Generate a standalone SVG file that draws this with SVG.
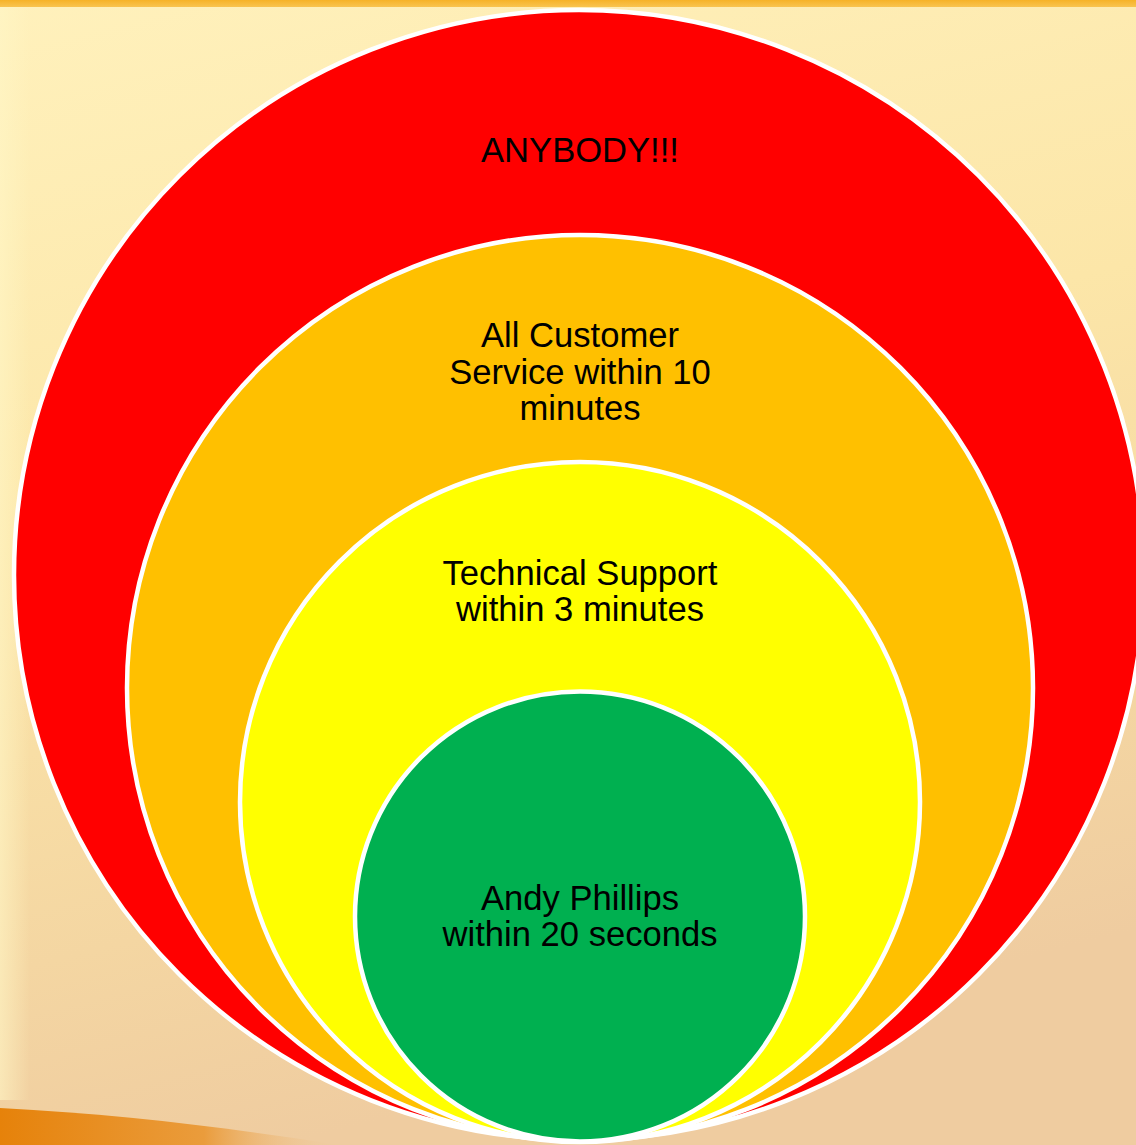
<svg xmlns="http://www.w3.org/2000/svg" width="1136" height="1145" viewBox="0 0 1136 1145">
<defs>
<linearGradient id="bg" x1="0" y1="0" x2="0.25" y2="1">
<stop offset="0" stop-color="#FFF1BC"/>
<stop offset="0.45" stop-color="#FCE6A8"/>
<stop offset="0.8" stop-color="#F4D6A2"/>
<stop offset="1" stop-color="#EFCCA0"/>
</linearGradient>
<linearGradient id="topbar" x1="0" y1="0" x2="0" y2="1">
<stop offset="0" stop-color="#F6B228"/>
<stop offset="1" stop-color="#F9C450"/>
</linearGradient>
<linearGradient id="swoosh" x1="0" y1="0" x2="1" y2="0">
<stop offset="0" stop-color="#E6820A"/>
<stop offset="0.6" stop-color="#EA9C3C"/>
<stop offset="1" stop-color="#EFCCA0" stop-opacity="0"/>
</linearGradient>
<linearGradient id="leftglow" x1="0" y1="0" x2="1" y2="0">
<stop offset="0" stop-color="#FFF6C6" stop-opacity="0.6"/>
<stop offset="1" stop-color="#FFF6C6" stop-opacity="0"/>
</linearGradient>
</defs>
<style>
.ring { stroke: #FFFFFF; stroke-width: 4.5; }
.lbl { font-family: "Liberation Sans", Arial, sans-serif; font-size: 34.6px; fill: #000000; text-anchor: middle; }
</style>
<rect x="0" y="0" width="1136" height="1145" fill="url(#bg)"/>
<rect x="0" y="0" width="30" height="1100" fill="url(#leftglow)"/>
<path d="M0 1108 C 120 1114, 230 1128, 340 1145 L 0 1145 Z" fill="url(#swoosh)"/>
<rect x="0" y="0" width="1136" height="7" fill="url(#topbar)"/>
<g id="node-anybody">
<circle class="ring" cx="579" cy="575" r="565" fill="#FF0000"/>
<text class="lbl" x="580" y="162">ANYBODY!!!</text>
</g>
<g id="node-customer-service">
<circle class="ring" cx="580" cy="688" r="453" fill="#FFC000"/>
<text class="lbl" x="580" y="347">All Customer</text>
<text class="lbl" x="580" y="384">Service within 10</text>
<text class="lbl" x="580" y="420">minutes</text>
</g>
<g id="node-technical-support">
<circle class="ring" cx="580" cy="802" r="340" fill="#FFFF00"/>
<text class="lbl" x="580" y="585">Technical Support</text>
<text class="lbl" x="580" y="621">within 3 minutes</text>
</g>
<g id="node-andy">
<circle class="ring" cx="580" cy="916.5" r="225" fill="#00B050"/>
<text class="lbl" x="580" y="910">Andy Phillips</text>
<text class="lbl" x="580" y="946">within 20 seconds</text>
</g>
<g id="connectors"></g>
</svg>
